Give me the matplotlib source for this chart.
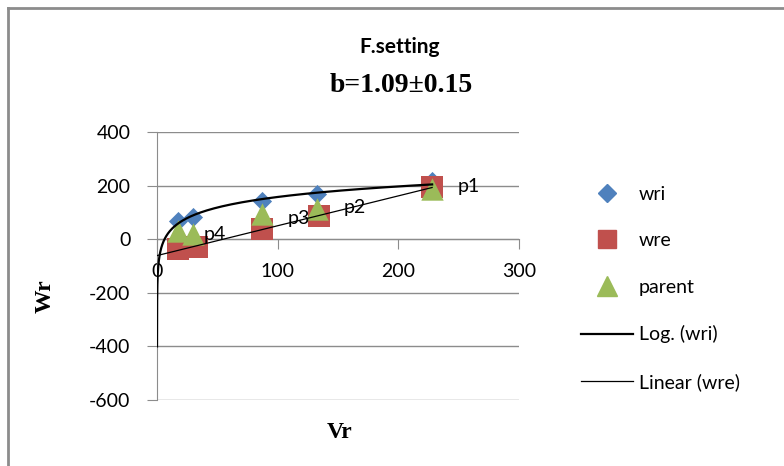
import numpy as np
import matplotlib
matplotlib.use("Agg")
import matplotlib.pyplot as plt
from matplotlib.lines import Line2D

plt.rcParams["axes.unicode_minus"] = False

# data
vr = [17, 30, 87, 133, 228]
vr_wre = [17, 33, 87, 134, 228]
wri = [67, 82, 141, 168, 216]
wre = [-37, -30, 37, 86, 194]
parent = [30, 19, 93, 112, 186]
point_names = ["p4", "p3", "p2", "p1"]
point_idx = [1, 2, 3, 4]

blue = "#4F81BD"
red = "#C0504D"
green = "#9BBB59"
grey = "#8C8C8C"
sans = "Lato"
serif = "Liberation Serif"

fig = plt.figure(figsize=(7.84, 4.66), dpi=100)
ax = fig.add_axes([157 / 784, 1 - 400 / 466, (519 - 157) / 784, (400 - 132) / 466])

ax.scatter(vr, wri, marker="D", s=95, color=blue, zorder=3, linewidths=0)
ax.scatter(vr_wre, wre, marker="s", s=230, color=red, zorder=4, linewidths=0)
ax.scatter(vr, parent, marker="^", s=260, color=green, zorder=5, linewidths=0)

# trendlines like excel
a, b = np.polyfit(np.log(vr), wri, 1)
x0 = np.exp((-400 - b) / a)
xs = np.logspace(np.log10(x0), np.log10(max(vr)), 400)
ax.plot(xs, a * np.log(xs) + b, color="black", lw=1.6, zorder=6)
m, c = np.polyfit(vr_wre, wre, 1)
xl = np.array([0, max(vr_wre)])
ax.plot(xl, m * xl + c, color="black", lw=0.9, zorder=6)

# point labels
offs = {"p1": (26, 3), "p2": (26, 2), "p3": (26, -4), "p4": (10, 0)}
for name, i in zip(point_names, point_idx):
    ax.annotate(name, (vr[i], parent[i]), xytext=offs[name], textcoords="offset pixels",
                fontsize=14, family=sans, va="center", ha="left", zorder=7)

ax.set_xlim(0, 300)
ax.set_ylim(-600, 400)
ax.set_xticks([0, 100, 200, 300])
ax.set_yticks(range(-600, 401, 200))
ax.grid(axis="y", color=grey, lw=1)
ax.set_axisbelow(True)
for s in ["top", "right"]:
    ax.spines[s].set_visible(False)
ax.spines["bottom"].set_position(("data", 0))
ax.spines["bottom"].set_color(grey)
ax.spines["left"].set_color(grey)
ax.tick_params(axis="y", length=7, color=grey, pad=12, labelsize=14)
ax.tick_params(axis="x", length=7, color=grey, pad=10, labelsize=14)
for lab in ax.get_xticklabels() + ax.get_yticklabels():
    lab.set_family(sans)

handles = [
    Line2D([], [], marker="D", ls="none", color=blue, markersize=9),
    Line2D([], [], marker="s", ls="none", color=red, markersize=13),
    Line2D([], [], marker="^", ls="none", color=green, markersize=14),
    Line2D([], [], color="black", lw=1.6),
    Line2D([], [], color="black", lw=0.9),
]
labels = ["wri", "wre", "parent", "Log. (wri)", "Linear (wre)"]
fig.legend(handles, labels, loc="upper left", bbox_to_anchor=(571 / 784, 1 - 176 / 466),
           frameon=False, borderpad=0, handlelength=2.7, handletextpad=0.3,
           labelspacing=1.52, prop={"family": sans, "size": 14})

fig.text(400 / 784, 1 - 47 / 466, "F.setting", ha="center", va="center",
         fontsize=15, fontweight="bold", family=sans)
fig.text(401 / 784, 1 - 85 / 466, "b=1.09\u00b10.15", ha="center", va="center",
         fontsize=20, fontweight="bold", family=serif)
fig.text(45 / 784, 1 - 296 / 466, "Wr", ha="center", va="center", rotation=90,
         fontsize=17, fontweight="bold", family=serif)
fig.text(340 / 784, 1 - 432 / 466, "Vr", ha="center", va="center",
         fontsize=17, fontweight="bold", family=serif)

# outer chart frame (top and left only visible)
fig.add_artist(Line2D([8 / 784, 1], [1 - 8 / 466, 1 - 8 / 466], color=grey, lw=2))
fig.add_artist(Line2D([8 / 784, 8 / 784], [0, 1 - 8 / 466], color=grey, lw=2))

fig.savefig("out.png", dpi=100)
